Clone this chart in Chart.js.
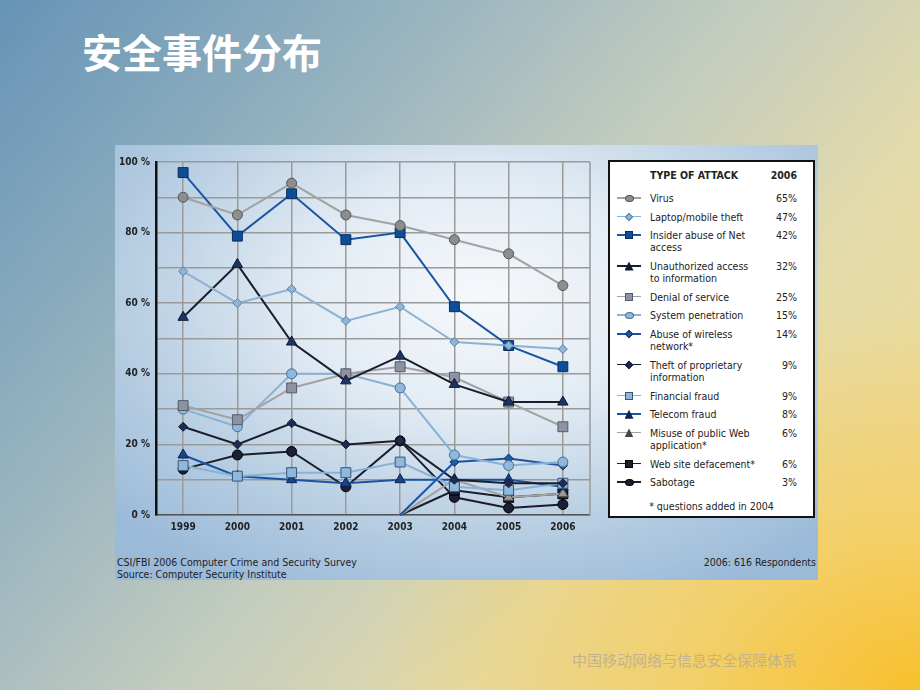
<!DOCTYPE html>
<html>
<head>
<meta charset="utf-8">
<script src="https://cdn.jsdelivr.net/npm/chart.js@4"></script>
<style>
  html, body { margin: 0; padding: 0; }
  body {
    width: 920px; height: 690px; overflow: hidden; position: relative;
    background:
      radial-gradient(ellipse 60% 55% at 100% 100%, rgba(248,190,40,0.95) 0%, rgba(248,200,70,0.6) 40%, rgba(245,220,140,0) 100%),
      linear-gradient(130deg, #6694b6 0%, #9ab5c0 30%, #c3ccbe 50%, #e4dbaa 70%, #f2d98c 100%);
    font-family: 'DejaVu Sans Condensed', 'DejaVu Sans', sans-serif;
    font-stretch: condensed;
  }
  #title {
    position: absolute; left: 82px; top: 31px;
    font-family: 'Noto Sans CJK SC', sans-serif; font-size: 40px; font-weight: 700;
    color: #fff; line-height: 1;
  }
  #footer {
    position: absolute; left: 572px; top: 649px;
    font-family: 'Noto Sans CJK SC', sans-serif; font-size: 15px; color: #c4b28c;
  }
  #panel {
    position: absolute; left: 115px; top: 145px; width: 703px; height: 435px;
    background: radial-gradient(ellipse 70% 75% at 52% 35%, #f6f8fb 0%, #e3ecf4 35%, #b9cfe3 70%, #9bbad8 100%);
  }
  #chart { position: absolute; left: 0; top: 0; }
  #legend {
    position: absolute; left: 493px; top: 15px; width: 203px; height: 354px;
    background: #fff; border: 2px solid #111; color: #222; font-size: 10.5px;
  }
  #legend .head { position: absolute; left: 40px; top: 7px; width: 147px; font-weight: bold; line-height: 12px; }
  #legend .head span { float: right; }
  #rows { position: absolute; left: 0; top: 30px; width: 203px; }
  .row { position: relative; padding-left: 40px; padding-right: 16px; line-height: 12px; padding-bottom: 6.7px; }
  .row .pct { position: absolute; right: 16px; top: 0; }
  .row .lbl { white-space: pre-line; }
  .sym { position: absolute; left: 7px; top: 0; width: 24px; height: 12px; }
  .sym .ln { position: absolute; left: 0; top: 5px; width: 24px; height: 1.5px; }
  .sym .mk { position: absolute; }
  #note { position: absolute; left: 0; width: 203px; top: 338px; text-align: center; line-height: 12px; }
  .src { position: absolute; font-size: 10.5px; color: #222; line-height: 12px; }
</style>
</head>
<body>
<div id="title">安全事件分布</div>
<div id="panel">
  <canvas id="chart" width="490" height="400"></canvas>
  <div id="legend">
    <div class="head">TYPE OF ATTACK<span>2006</span></div>
    <div id="rows"></div>
    <div id="note">* questions added in 2004</div>
  </div>
  <div class="src" style="left:2px; top:411px;">CSI/FBI 2006 Computer Crime and Security Survey</div>
  <div class="src" style="left:2px; top:423px;">Source: Computer Security Institute</div>
  <div class="src" style="right:2px; top:411px;">2006: 616 Respondents</div>
</div>
<div id="footer">中国移动网络与信息安全保障体系</div>

<script>
var years = ["1999", "2000", "2001", "2002", "2003", "2004", "2005", "2006"];

var virus = [90, 85, 94, 85, 82, 78, 74, 65];
var laptop = [69, 60, 64, 55, 59, 49, 48, 47];
var insider = [97, 79, 91, 78, 80, 59, 48, 42];
var unauthorized = [56, 71, 49, 38, 45, 37, 32, 32];
var denial = [31, 27, 36, 40, 42, 39, 32, 25];
var penetration = [30, 25, 40, 40, 36, 17, 14, 15];
var wireless = [null, null, null, null, 0, 15, 16, 14];
var theft = [25, 20, 26, 20, 21, 10, 9, 9];
var financial = [14, 11, 12, 12, 15, 8, 7, 9];
var telecom = [17, 11, 10, 9, 10, 10, 10, 8];
var misuse = [null, null, null, null, 0, 10, 5, 6];
var defacement = [null, null, null, null, 0, 7, 5, 6];
var sabotage = [13, 17, 18, 8, 21, 5, 2, 3];

var labels = [
  "Virus",
  "Laptop/mobile theft",
  "Insider abuse of Net\naccess",
  "Unauthorized access\nto information",
  "Denial of service",
  "System penetration",
  "Abuse of wireless\nnetwork*",
  "Theft of proprietary\ninformation",
  "Financial fraud",
  "Telecom fraud",
  "Misuse of public Web\napplication*",
  "Web site defacement*",
  "Sabotage"
];
var series = [virus, laptop, insider, unauthorized, denial, penetration, wireless,
  theft, financial, telecom, misuse, defacement, sabotage];

// line colour, marker shape, marker fill, marker border, radius
var grey = "#a2a2a2", light = "#8cb2d3", blue = "#1a55a3", dark = "#1b1e2a";
var styles = [
  [grey, "circle", "#8d8d8d", "#555", 5],
  [light, "rectRot", "#8fb6d8", "#5a7fa0", 4.5],
  [blue, "rect", "#0c4e9a", "#082d5c", 7],
  [dark, "triangle", "#1d3463", "#0e1a33", 6],
  [grey, "rect", "#8e93a3", "#555a6a", 7],
  [light, "circle", "#8fb8dc", "#4a6c8e", 5],
  [blue, "rectRot", "#1a5aa8", "#0d3060", 4.5],
  [dark, "rectRot", "#1d2d50", "#0e1a33", 4.5],
  [light, "rect", "#8fb8dc", "#35577a", 7],
  [blue, "triangle", "#16438a", "#0e2550", 6],
  [grey, "triangle", "#9a9a9a", "#444", 6],
  [dark, "rect", "#1a1f2e", "#000", 7],
  [dark, "circle", "#1a2035", "#000", 5]
];

var datasets = [];
for (var i = 0; i < series.length; i++) {
  var s = styles[i];
  var late = series[i][0] === null;
  datasets.push({
    label: labels[i].replace("\n", " "),
    data: series[i],
    borderColor: s[0],
    borderWidth: 2,
    pointStyle: s[1],
    pointBackgroundColor: s[2],
    pointBorderColor: s[3],
    pointBorderWidth: 1,
    pointRadius: late ? [0, 0, 0, 0, 0, s[4], s[4], s[4]] : s[4],
    tension: 0,
    clip: false
  });
}

var tickFont = { family: "'DejaVu Sans Condensed', 'Liberation Sans Narrow', sans-serif", size: 10, weight: "bold" };

var frame = {
  id: "frame",
  beforeDatasetsDraw: function (chart) {
    var a = chart.chartArea, c = chart.ctx;
    c.save();
    c.strokeStyle = "#9a9a9a";
    c.lineWidth = 1.5;
    c.beginPath();
    c.moveTo(a.right, a.top);
    c.lineTo(a.right, a.bottom);
    c.stroke();
    c.restore();
  }
};

var myChart = new Chart(document.getElementById("chart"), {
  type: "line",
  data: { labels: years, datasets: datasets },
  plugins: [frame],
  options: {
    responsive: false,
    animation: false,
    layout: { padding: { top: 17, right: 15, left: 0, bottom: 0 } },
    plugins: { legend: { display: false }, tooltip: { enabled: false } },
    scales: {
      x: {
        offset: true,
        grid: { color: "#9a9a9a", lineWidth: 1.5, offset: false, drawTicks: false },
        border: { color: "#555", width: 1.5 },
        ticks: { color: "#222", font: tickFont, padding: 6, maxRotation: 0 },
        afterFit: function (scale) { scale.height = 30; }
      },
      y: {
        min: 0, max: 100,
        grid: { color: "#9a9a9a", lineWidth: 1.5, drawTicks: false },
        border: { color: "#111", width: 2.5 },
        ticks: {
          stepSize: 10, color: "#222", font: tickFont, padding: 6,
          callback: function (v) { return v % 20 === 0 ? v + " %" : ""; }
        },
        afterFit: function (scale) { scale.width = 41; }
      }
    }
  }
});

// legend rows
var rows = document.getElementById("rows");
for (var j = 0; j < labels.length; j++) {
  var st = styles[j];
  var row = document.createElement("div");
  row.className = "row";
  var sym = document.createElement("div");
  sym.className = "sym";
  var ln = document.createElement("div");
  ln.className = "ln";
  ln.style.background = st[0];
  sym.appendChild(ln);
  var mk = document.createElement("div");
  mk.className = "mk";
  var size = st[1] === "rectRot" ? 6 : (st[1] === "rect" ? 8 : 9);
  var hgt = st[1] === "circle" ? 7 : size;
  mk.style.width = size + "px";
  mk.style.height = hgt + "px";
  mk.style.left = (12 - size / 2) + "px";
  mk.style.top = (6 - hgt / 2) + "px";
  mk.style.background = st[2];
  mk.style.boxSizing = "border-box";
  if (st[1] === "circle") { mk.style.borderRadius = "50%"; mk.style.border = "1px solid " + st[3]; }
  if (st[1] === "rect") { mk.style.border = "1px solid " + st[3]; }
  if (st[1] === "rectRot") { mk.style.transform = "rotate(45deg)"; mk.style.border = "1px solid " + st[3]; }
  if (st[1] === "triangle") { mk.style.clipPath = "polygon(50% 0, 100% 100%, 0 100%)"; mk.style.background = st[3]; }
  sym.appendChild(mk);
  row.appendChild(sym);
  var lbl = document.createElement("div");
  lbl.className = "lbl";
  lbl.textContent = labels[j];
  row.appendChild(lbl);
  var pct = document.createElement("div");
  pct.className = "pct";
  pct.textContent = series[j][series[j].length - 1] + "%";
  row.appendChild(pct);
  rows.appendChild(row);
}
</script>
</body>
</html>
